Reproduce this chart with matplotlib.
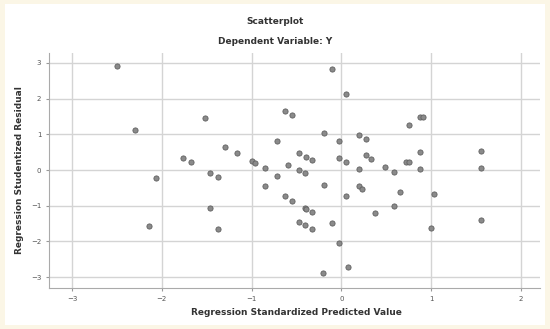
import numpy as np
import matplotlib.pyplot as plt
from matplotlib.patches import Rectangle

# standardized predicted value vs studentized residual
pred = [-2.50, -2.30, -2.06, -2.14, -1.76, -1.68, -1.52, -1.46, -1.37, -1.46,
        -1.37, -1.30, -1.16, -1.00, -0.96, -0.85, -0.85, -0.72, -0.72, -0.63,
        -0.63, -0.59, -0.55, -0.55, -0.47, -0.39, -0.33, -0.47, -0.41, -0.41,
        -0.39, -0.33, -0.47, -0.41, -0.33, -0.10, 0.05, -0.20, -0.03, -0.03,
        0.05, -0.20, -0.11, -0.03, -0.21, 0.07, 0.05, 0.20, 0.27, 0.27,
        0.33, 0.19, 0.19, 0.23, 0.37, 0.49, 0.59, 0.65, 0.59, 0.72,
        0.75, 0.75, 0.87, 0.91, 0.87, 0.87, 1.00, 1.03, 1.55, 1.55,
        1.55]
resid = [2.91, 1.12, -0.21, -1.57, 0.35, 0.22, 1.47, -0.08, -0.20, -1.05,
         -1.64, 0.66, 0.47, 0.24, 0.20, 0.05, -0.44, 0.81, -0.16, 1.65,
         -0.74, 0.13, 1.54, -0.87, 0.47, 0.36, 0.28, 0.00, -0.09, -1.06,
         -1.09, -1.17, -1.45, -1.54, -1.64, 2.83, 2.14, 1.05, 0.81, 0.34,
         0.22, -0.41, -1.47, -2.05, -2.88, -2.73, -0.73, 0.97, 0.87, 0.41,
         0.32, 0.03, -0.44, -0.52, -1.20, 0.08, -0.05, -0.62, -1.01, 0.22,
         0.22, 1.25, 1.48, 1.48, 0.51, 0.04, -1.63, -0.66, 0.53, 0.05,
         -1.41]

xticks = [-3, -2, -1, 0, 1, 2]
yticks = [-3, -2, -1, 0, 1, 2, 3]

fig = plt.figure(figsize=(5.5, 3.29), dpi=100)
fig.patch.set_facecolor('#fbf6e6')
# white inner panel like the screenshot
fig.patches.append(Rectangle((5/550, 4/329), 540/550, 321/329, transform=fig.transFigure,
                             facecolor='white', edgecolor='none', zorder=-10))

ax = fig.add_axes([49/550, 41/329, 491/550, 235/329])
ax.set_facecolor('white')
ax.scatter(pred, resid, s=14, c='#8a8a8a', edgecolors='#606060', linewidths=0.6, zorder=3)

ax.set_xlim(-3.256, 2.21)
ax.set_ylim(-3.305, 3.28)
ax.set_xticks(xticks)
ax.set_yticks(yticks)
ax.grid(True, color='#d4d4d4', lw=1.0, zorder=0)
ax.set_axisbelow(True)
ax.tick_params(labelsize=5, colors='#999999', length=2, labelcolor='#555555')
for s in ['top', 'right']:
    ax.spines[s].set_visible(False)
for s in ['left', 'bottom']:
    ax.spines[s].set_color('#aaaaaa')

ax.set_xlabel('Regression Standardized Predicted Value', fontsize=6.5, fontweight='bold',
              color='#333333', labelpad=4)
ax.xaxis.set_label_coords((296-49)/491, -0.085)
ax.set_ylabel('Regression Studentized Residual', fontsize=6.5, fontweight='bold',
              color='#333333')
ax.yaxis.set_label_coords(-0.05, 0.5)

fig.text(0.5, 1-22/329, 'Scatterplot', ha='center', va='center', fontsize=6.5,
         fontweight='bold', color='#333333')
fig.text(0.5, 1-41/329, 'Dependent Variable: Y', ha='center', va='center', fontsize=6.5,
         fontweight='bold', color='#333333')

fig.savefig('out.png', dpi=100, facecolor=fig.get_facecolor())
